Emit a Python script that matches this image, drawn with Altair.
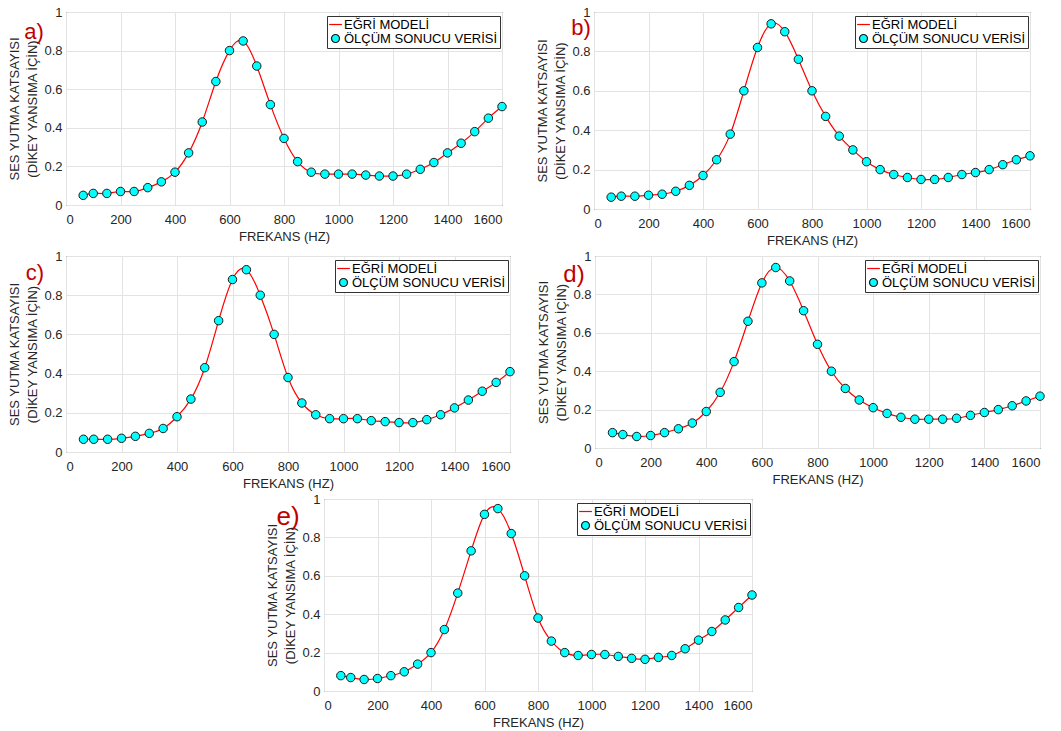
import altair as alt
import pandas as pd

FREQ = [63, 100, 150, 200, 250, 300, 350, 400, 450, 500, 550, 600, 650, 700, 750, 800,
        850, 900, 950, 1000, 1050, 1100, 1150, 1200, 1250, 1300, 1350, 1400, 1450, 1500, 1550, 1600]

VALS_A = [0.05, 0.06, 0.06, 0.07, 0.07, 0.09, 0.12, 0.17, 0.27, 0.43, 0.64, 0.80, 0.85, 0.72, 0.52, 0.345,
          0.225, 0.17, 0.16, 0.16, 0.16, 0.155, 0.15, 0.15, 0.16, 0.185, 0.22, 0.27, 0.32, 0.38, 0.45, 0.51]
VALS_B = [0.06, 0.065, 0.065, 0.07, 0.075, 0.09, 0.12, 0.17, 0.25, 0.38, 0.60, 0.82, 0.94, 0.90, 0.76, 0.60,
          0.47, 0.37, 0.30, 0.24, 0.20, 0.175, 0.16, 0.15, 0.15, 0.16, 0.175, 0.185, 0.20, 0.225, 0.25, 0.27]
VALS_C = [0.065, 0.065, 0.065, 0.07, 0.08, 0.095, 0.12, 0.18, 0.27, 0.43, 0.67, 0.88, 0.93, 0.80, 0.60, 0.38,
          0.25, 0.19, 0.17, 0.17, 0.17, 0.16, 0.155, 0.15, 0.15, 0.165, 0.19, 0.225, 0.265, 0.31, 0.355, 0.41]
VALS_D = [0.08, 0.07, 0.06, 0.065, 0.08, 0.10, 0.13, 0.19, 0.29, 0.45, 0.66, 0.86, 0.94, 0.87, 0.715, 0.54,
          0.40, 0.31, 0.25, 0.21, 0.18, 0.16, 0.15, 0.15, 0.15, 0.155, 0.17, 0.185, 0.20, 0.22, 0.245, 0.27]
VALS_E = [0.08, 0.07, 0.06, 0.065, 0.08, 0.10, 0.14, 0.20, 0.32, 0.51, 0.73, 0.92, 0.95, 0.82, 0.60, 0.38,
          0.26, 0.20, 0.185, 0.19, 0.19, 0.18, 0.17, 0.165, 0.175, 0.185, 0.22, 0.265, 0.31, 0.37, 0.435, 0.50]

PANEL_LABELS = ["a)", "b)", "c)", "d)", "e)"]
LEG_LINE = "EĞRİ MODELİ"
LEG_PT = "ÖLÇÜM SONUCU VERİSİ"
X_TITLE = "FREKANS (HZ)"
Y_TITLE = ["SES YUTMA KATSAYISI", "(DİKEY YANSIMA İÇİN)"]
X_TICKS = [0, 200, 400, 600, 800, 1000, 1200, 1400, 1600]
Y_TICKS = [0, 0.2, 0.4, 0.6, 0.8, 1.0]

FONT = "Liberation Sans"
TXT = "#262626"


def panel(vals, label, w, h, lx, ly, lsize):
    df_line = pd.DataFrame({"f": FREQ, "v": vals, "s": LEG_LINE})
    df_pts = pd.DataFrame({"f": FREQ, "v": vals, "s": LEG_PT})
    dom = [LEG_LINE, LEG_PT]
    x = alt.X("f:Q", scale=alt.Scale(domain=[0, 1600], nice=False),
              axis=alt.Axis(values=X_TICKS, format="d", title=X_TITLE))
    y = alt.Y("v:Q", scale=alt.Scale(domain=[0, 1], nice=False),
              axis=alt.Axis(values=Y_TICKS, format=".1~f", title=Y_TITLE))
    leg = alt.Legend(title=None, orient="none", legendX=w - 175, legendY=4,
                     fillColor="white", strokeColor="#333333", padding=2,
                     labelFont=FONT, labelFontSize=13, labelColor="#000000",
                     symbolSize=64, symbolStrokeWidth=1.2, rowPadding=0, labelOffset=2)
    stroke = alt.Stroke("s:N", scale=alt.Scale(domain=dom, range=["#ff0000", "#1a1a1a"]), legend=leg)
    fill = alt.Fill("s:N", scale=alt.Scale(domain=dom, range=["transparent", "#00ffff"]), legend=leg)
    shape = alt.Shape("s:N", scale=alt.Scale(domain=dom, range=["M-1.6,0L1.6,0", "circle"]), legend=leg)
    line = alt.Chart(df_line).mark_line(interpolate="natural", strokeWidth=1.2).encode(
        x=x, y=y, stroke=stroke)
    pts = alt.Chart(df_pts).mark_point(filled=True, size=72, strokeWidth=1, opacity=1).encode(
        x=x, y=y, stroke=stroke, fill=fill, shape=shape)
    txt = alt.Chart(pd.DataFrame({"t": [label]})).mark_text(
        font=FONT, fontSize=lsize, color="#c00000", align="center", baseline="middle").encode(
        text="t:N", x=alt.value(lx), y=alt.value(ly))
    return alt.layer(line, pts, txt).properties(width=w, height=h)


pa = panel(VALS_A, PANEL_LABELS[0], 436, 193, -32, 20, 22)
pb = panel(VALS_B, PANEL_LABELS[1], 436, 197, -13, 16, 22)
pc = panel(VALS_C, PANEL_LABELS[2], 444, 196, -31, 17, 22)
pd_ = panel(VALS_D, PANEL_LABELS[3], 445, 192, -21, 19, 24)
pe = panel(VALS_E, PANEL_LABELS[4], 428, 192, -36, 18, 26)

spacer = alt.Chart(pd.DataFrame({"z": [0]})).mark_point(opacity=0).properties(
    width=1, height=10, view=alt.ViewBackground(stroke="transparent"))

indep = dict(stroke="independent", fill="independent", shape="independent")
row1 = alt.hconcat(pa, pb, spacing=27).resolve_scale(**indep)
row2 = alt.hconcat(pc, pd_, spacing=20).resolve_scale(**indep)
row3 = alt.hconcat(spacer, pe, spacing=196).resolve_scale(**indep)

chart = alt.vconcat(row1, row2, row3, spacing=1).resolve_scale(**indep).configure(
    background="white", padding={"left": 8, "top": 5, "right": 5, "bottom": 2}
).configure_view(stroke="#262626", strokeWidth=1).configure_axis(
    grid=True, gridColor="#e3e3e3", gridWidth=1, domain=False, ticks=False,
    labelFont=FONT, labelFontSize=13, labelColor=TXT,
    titleFont=FONT, titleFontSize=13, titleFontWeight="normal", titleColor=TXT,
    titleLineHeight=18, titlePadding=4
).configure_axisX(labelPadding=8).configure_axisY(labelPadding=4)

chart.save("out.html", embed_options={"renderer": "svg", "actions": False})
